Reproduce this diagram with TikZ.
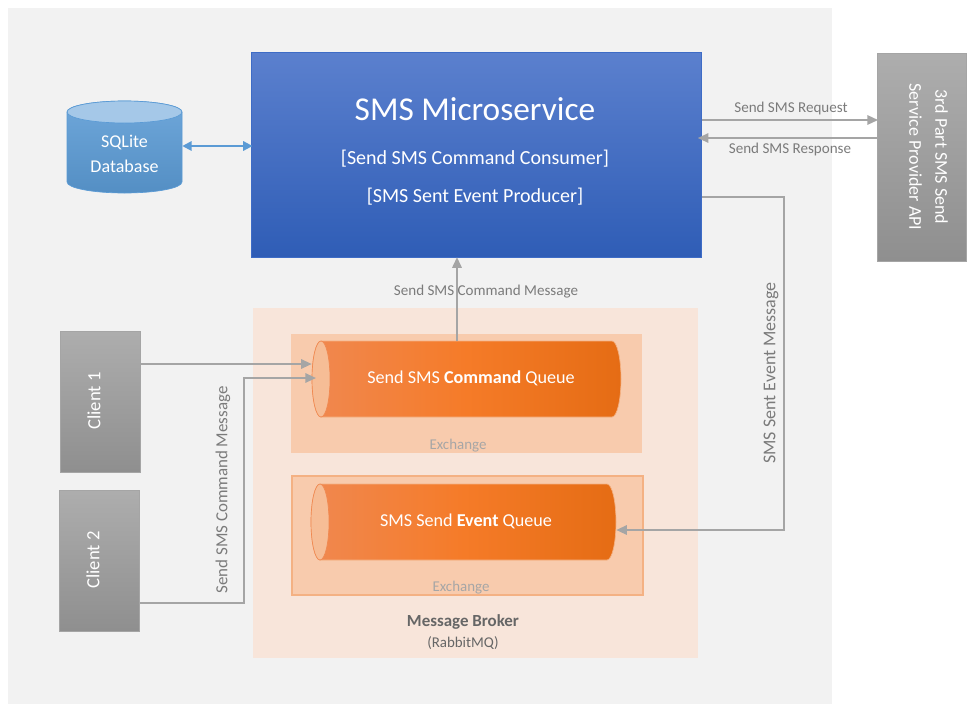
\documentclass[tikz,border=0pt]{standalone}
\usepackage{fontspec}
\setmainfont{Carlito}
\usepackage{xcolor}
\usetikzlibrary{arrows.meta,calc,positioning}
\definecolor{panelgray}{HTML}{F2F2F2}
\definecolor{brokerfill}{HTML}{F8E5DA}
\definecolor{exchfill}{HTML}{F8CBAD}
\definecolor{exchline}{HTML}{F4B183}
\definecolor{linkgray}{HTML}{A5A5A5}
\definecolor{labelgray}{HTML}{7B7B7B}
\definecolor{dbblue}{HTML}{5B9BD5}
\definecolor{microtop}{HTML}{5B80CE}
\definecolor{micromid}{HTML}{3E6CC6}
\definecolor{microbot}{HTML}{2F5DB6}
\definecolor{queueleft}{HTML}{F08850}
\definecolor{queuemid}{HTML}{F57B28}
\definecolor{queueright}{HTML}{E56C14}
\tikzset{
  grayblock/.style={draw=linkgray,top color=black!32,bottom color=black!44,text=white,inner sep=0pt},
  link/.style={draw=linkgray,line width=1.5pt,-{Triangle[length=8pt,width=7pt]}},
  linklabel/.style={text=labelgray,font=\fontsize{11.3}{13}\selectfont,inner sep=0pt},
  queuelabel/.style={text=white,inner sep=0pt,font=\fontsize{13.6}{16}\selectfont},
  exchlabel/.style={text=black!35,inner sep=0pt,font=\fontsize{11.2}{13}\selectfont}
}
\begin{document}
\begin{tikzpicture}[x=0.75pt,y=-0.75pt]
\useasboundingbox (0,0) rectangle (972,711);
\fill[panelgray] (8,8) rectangle (832,704);
\fill[brokerfill] (253,308) rectangle (698,658);
\fill[exchfill] (291,334) rectangle (642,453);
\draw[exchline,fill=exchfill,line width=1.5pt] (292,476) rectangle (643,595);
\shade[top color=dbblue!88!white,bottom color=dbblue!92!black,draw=dbblue,line width=0.5pt]
  (67,112) -- (67,182) arc[start angle=180,end angle=0,x radius=57.5,y radius=11]
  -- (182,112) arc[start angle=0,end angle=-180,x radius=57.5,y radius=11] -- cycle;
\draw[dbblue,fill=dbblue!55!white,line width=0.5pt] (124.5,112) ellipse[x radius=57.5,y radius=11];
\shade[left color=queueleft,right color=queueright,middle color=queuemid,draw=exchline,line width=0.5pt]
  (321,341) -- (612,341) arc[start angle=-90,end angle=90,x radius=9,y radius=38]
  -- (321,417) arc[start angle=90,end angle=270,x radius=9,y radius=38] -- cycle;
\draw[queueleft,fill=exchline!85!white,line width=0.5pt] (321,379) ellipse[x radius=9,y radius=38];
\shade[left color=queueleft,right color=queueright,middle color=queuemid,draw=exchline,line width=0.5pt]
  (320,484) -- (607,484) arc[start angle=-90,end angle=90,x radius=9,y radius=38]
  -- (320,560) arc[start angle=90,end angle=270,x radius=9,y radius=38] -- cycle;
\draw[queueleft,fill=exchline!85!white,line width=0.5pt] (320,522) ellipse[x radius=9,y radius=38];

\node[draw=micromid,top color=microtop,bottom color=microbot,text=white,inner sep=0pt,minimum width=337.5pt,minimum height=153.5pt] (micro) at (476.5,154.5) {};
\node[text=white,inner sep=0pt,font=\fontsize{25}{30}\selectfont] (microtitle) at (475,109) {SMS Microservice};
\node[text=white,inner sep=0pt,font=\fontsize{15}{18}\selectfont] (microcmd) at (475,159) {[Send SMS Command Consumer]};
\node[text=white,inner sep=0pt,font=\fontsize{15}{18}\selectfont] (microevt) at (475,197) {[SMS Sent Event Producer]};

\node[inner sep=0pt,minimum width=86.25pt,minimum height=69pt,text=white,align=center,font=\fontsize{13.5}{18.75}\selectfont] (sqlite) at (124.5,154) {SQLite\\Database};

\node[grayblock,minimum width=66.75pt,minimum height=156pt] (provider) at (921.5,157) {};
\node[text=white,inner sep=0pt,align=center,rotate=-90,font=\fontsize{13.5}{19.5}\selectfont] (providertext) at (928.5,157) {3rd Part SMS Send\\Service Provider API};
\node[grayblock,minimum width=60.25pt,minimum height=105.75pt] (client1) at (100.5,401.5) {};
\node[text=white,inner sep=0pt,rotate=90,font=\fontsize{14}{16}\selectfont] (client1text) at (94,401) {Client 1};
\node[grayblock,minimum width=60.25pt,minimum height=105.75pt] (client2) at (99.5,560.5) {};
\node[text=white,inner sep=0pt,rotate=90,font=\fontsize{14}{16}\selectfont] (client2text) at (93,560) {Client 2};

\node[inner sep=0pt,minimum width=231.75pt,minimum height=57pt] (cmdqueue) at (466.5,379) {};
\node[queuelabel] (cmdtext) at (471,378) {Send SMS \textbf{Command} Queue};
\node[inner sep=0pt,minimum width=228.75pt,minimum height=57pt] (evtqueue) at (463.5,522) {};
\node[queuelabel] (evttext) at (466,521) {SMS Send \textbf{Event} Queue};

\node[exchlabel] (exch1) at (458,446) {Exchange};
\node[exchlabel] (exch2) at (461,588) {Exchange};
\node[text=black!60,inner sep=0pt,font=\bfseries\fontsize{12.7}{15}\selectfont] (broker) at (463,622) {Message Broker};
\node[text=black!60,inner sep=0pt,font=\fontsize{11.2}{13}\selectfont] (rabbit) at (463,643) {(RabbitMQ)};

\coordinate (eventturn) at (784,197);
\coordinate (clientturn) at (244,603);
\draw[dbblue,line width=1.5pt,{Triangle[length=7pt,width=7pt]}-{Triangle[length=7pt,width=7pt]}] (sqlite.east |- 0,146) -- ([xshift=1pt]micro.west |- 0,146);
\draw[link] (micro.east |- 0,120) -- ([xshift=1pt]provider.west |- 0,120);
\draw[link] (provider.west |- 0,138) -- ([xshift=-3pt]micro.east |- 0,138);
\draw[link] (457,341) -- (micro.south -| 457,0);
\draw[link] (client1.east |- 0,364) -- (cmdqueue.west |- 0,364);
\draw[link] (client2.east |- clientturn) -- (clientturn) |- (316,378);
\draw[link] (micro.east |- eventturn) -- (eventturn) |- (evtqueue.east |- 0,530);

\node[linklabel] (reqlabel) at (791,108) {Send SMS Request};
\node[linklabel] (resplabel) at (790,149) {Send SMS Response};
\node[linklabel] (cmdmsg) at (486,292) {Send SMS Command Message};
\node[linklabel,font=\fontsize{12.7}{15}\selectfont,rotate=90] (clientmsg) at (223,490) {Send SMS Command Message};
\node[linklabel,font=\fontsize{13.5}{16}\selectfont,rotate=90] (eventmsg) at (771,373) {SMS Sent Event Message};
\end{tikzpicture}
\end{document}
